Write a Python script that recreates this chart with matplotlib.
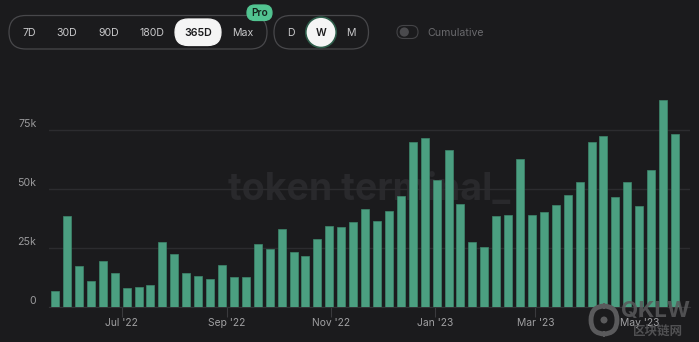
import matplotlib
matplotlib.use("Agg")
import matplotlib.pyplot as plt
import matplotlib.dates as mdates
from matplotlib.patches import FancyBboxPatch, Circle
from matplotlib.transforms import Affine2D, ScaledTranslation
import pandas as pd

plt.rcParams['font.family'] = ['Inter', 'Noto Sans CJK SC', 'DejaVu Sans']

# ---- data ----
week_start = "2022-05-23"
n_weeks = 53
values = [6.7, 38.5, 17.3, 10.8, 19.2, 14.4, 7.9, 8.1, 9.3, 27.2,
          22.4, 14.1, 13.0, 11.5, 17.8, 12.5, 12.5, 26.4, 24.3, 33.0,
          23.1, 21.4, 28.6, 34.2, 33.7, 35.9, 41.5, 36.3, 40.4, 46.9,
          70.0, 71.4, 53.6, 66.3, 43.4, 27.2, 25.4, 38.5, 38.8, 62.6,
          38.8, 40.0, 42.9, 47.3, 52.8, 69.7, 72.5, 46.6, 52.8, 42.7,
          57.9, 87.5, 73.2]
values = [v * 1000 for v in values]
dates = pd.date_range(week_start, periods=n_weeks, freq="7D")
y_ticks = [0, 25000, 50000, 75000]
y_tick_labels = ["0", "25k", "50k", "75k"]
range_buttons = ["7D", "30D", "90D", "180D", "365D", "Max"]
gran_buttons = ["D", "W", "M"]

BG = "#1b1b1d"
BAR = "#4b9f81"
W, H = 699, 342

fig = plt.figure(figsize=(W / 100, H / 100), dpi=100, facecolor=BG)

def fx(px): return px / W
def fy(py): return 1 - py / H

ax = fig.add_axes([fx(49), fy(306.5), fx(690) - fx(49), fy(94.5) - fy(306.5)])
ax.set_facecolor(BG)

x = mdates.date2num(dates)
ax.bar(x, values, width=4.7, color=BAR, edgecolor="#3e876c", linewidth=0.5, zorder=3)

ax.set_ylim(0, 90000)
ax.set_xlim(x[0] - 3.6, x[-1] + 8.8)
ax.set_yticks(y_ticks)
ax.set_yticklabels(y_tick_labels)
ax.yaxis.grid(True, color="#2c2c2f", linewidth=1.0, zorder=0)
ax.tick_params(axis="y", length=0, pad=9, labelsize=7.6, labelcolor="#9a9a9c")
for lab in ax.get_yticklabels():
    lab.set_verticalalignment("bottom")
    lab.set_transform(lab.get_transform() + ScaledTranslation(0, 0.5 / 100, fig.dpi_scale_trans))
ax.xaxis.set_major_locator(mdates.MonthLocator(bymonth=[1, 3, 5, 7, 9, 11]))
ax.xaxis.set_major_formatter(mdates.DateFormatter("%b '%y"))
ax.tick_params(axis="x", length=7, width=0.8, color="#3a3a3d", pad=1,
               labelsize=7.4, labelcolor="#a0a0a2")
for s in ["top", "right", "left"]:
    ax.spines[s].set_visible(False)
ax.spines["bottom"].set_color("#333336")
ax.spines["bottom"].set_linewidth(0.8)

# watermark (behind bars)
ax.text(fx(369), fy(190), "token terminal_", ha="center", va="center",
        fontsize=27, fontweight="bold", color="#29292c", zorder=1,
        transform=fig.transFigure)

# ---- top controls ----
pix = Affine2D()  # display pixels (dpi 100)

def rrect(x0, y0, x1, y1, fc="none", ec="#48484b", lw=0.9):
    h = y1 - y0
    r = h / 2
    p = FancyBboxPatch((x0 + r, H - y1 + r), (x1 - x0) - 2 * r, 0.0001,
                       boxstyle=f"round,pad={r}", transform=pix,
                       facecolor=fc, edgecolor=ec, linewidth=lw)
    fig.patches.append(p)

rrect(9, 15.5, 267, 49)
rrect(175, 19, 221, 45.5, fc="#f5f5f5", ec="#f5f5f5")
label_x = [29, 67, 109, 152, 198, 243]
for lx, t in zip(label_x, range_buttons):
    sel = t == "365D"
    fig.text(fx(lx), fy(32.5), t, ha="center", va="center", fontsize=7.6,
             color="#1b1b1d" if sel else "#c8c8ca",
             fontweight="semibold" if sel else "normal")
rrect(247, 5, 272, 20.5, fc="#52c491", ec="#52c491")
fig.text(fx(259.5), fy(13), "Pro", ha="center", va="center", fontsize=7.3,
         color="#15251d", fontweight="semibold")

rrect(274, 15.5, 368.5, 49)
fig.patches.append(Circle((321, H - 32.3), 15.2, transform=pix,
                          facecolor="#f5f5f5", edgecolor="#2d5c49", linewidth=1.2))
for lx, t in zip([291, 321, 351], gran_buttons):
    sel = t == "W"
    fig.text(fx(lx), fy(32.5), t, ha="center", va="center", fontsize=7.6,
             color="#1b1b1d" if sel else "#c8c8ca",
             fontweight="semibold" if sel else "normal")

rrect(397, 25.5, 418, 38.5, fc="#1b1b1d", ec="#444447", lw=0.8)
fig.patches.append(Circle((404.3, H - 32), 4.6, transform=pix,
                          facecolor="#4a4a4d", edgecolor="none"))
fig.text(fx(427), fy(32.5), "Cumulative", ha="left", va="center", fontsize=7.6,
         color="#6a6a6d")

# ---- corner logo watermark ----
rrect(591, 306, 617, 334, fc="none", ec="#5a5a5c", lw=3.5)
fig.patches.append(Circle((604, H - 320), 3.5, transform=pix,
                          facecolor="#5a5a5c", edgecolor="none"))
fig.text(fx(655), fy(311), "QKLW", ha="center", va="center", fontsize=16,
         fontweight="bold", color="#5a5a5c", alpha=0.85)
fig.text(fx(658), fy(332), "区块链网", ha="center", va="center", fontsize=9,
         fontweight="bold", color="#5a5a5c", alpha=0.85)

fig.savefig("out.png", dpi=100, facecolor=BG)
